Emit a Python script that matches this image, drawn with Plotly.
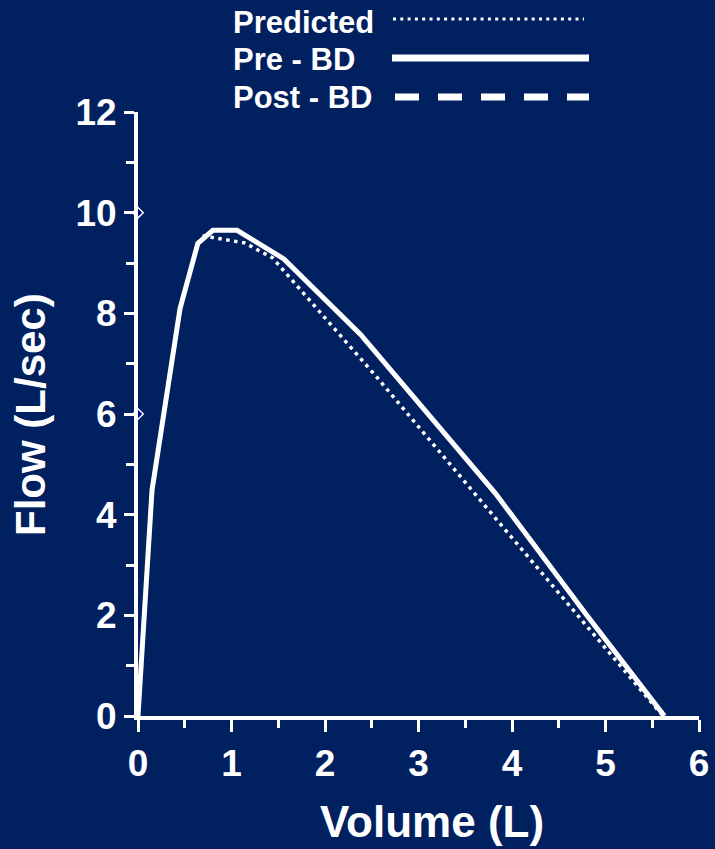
import plotly.graph_objects as go

# ---- data ----
pre_bd_volume = [0.0, 0.15, 0.45, 0.64, 0.80, 1.06, 1.56, 2.38, 3.82, 4.80, 5.63]
pre_bd_flow   = [0.0, 4.49, 8.10, 9.39, 9.65, 9.65, 9.08, 7.58, 4.43, 2.00, 0.0]

pred_volume = [0.69, 1.14, 1.44, 2.55, 3.90, 5.60]
pred_flow   = [9.54, 9.40, 9.10, 6.74, 3.76, 0.03]

post_bd_volume = [0.0, 0.0]
post_bd_flow   = [10.0, 6.0]

x_ticks = [0, 1, 2, 3, 4, 5, 6]
y_ticks = [0, 2, 4, 6, 8, 10, 12]

legend_labels = ["Predicted", "Pre - BD", "Post - BD"]

BG = "#002060"
FONT = "Liberation Sans, Arial, sans-serif"

fig = go.Figure()
fig.add_trace(go.Scatter(x=pred_volume, y=pred_flow, mode="lines",
                         line=dict(color="white", width=3.5, dash="3.5px,4.5px"),
                         showlegend=False, cliponaxis=False))
fig.add_trace(go.Scatter(x=pre_bd_volume, y=pre_bd_flow, mode="lines",
                         line=dict(color="white", width=5),
                         showlegend=False, cliponaxis=False))
fig.add_trace(go.Scatter(x=post_bd_volume, y=post_bd_flow, mode="markers",
                         marker=dict(symbol="diamond", size=8, color="#000080",
                                     line=dict(color="white", width=1.5)),
                         showlegend=False, cliponaxis=False))

axis_common = dict(showline=True, linecolor="white", linewidth=4,
                   ticks="outside", tickcolor="white", tickwidth=3,
                   showgrid=False, zeroline=False, automargin=False,
                   tickfont=dict(family=FONT, size=37, color="white", weight="bold"))

fig.update_xaxes(range=[0, 6], tickvals=x_ticks, ticktext=[str(v) for v in x_ticks],
                 ticklen=12, minor=dict(dtick=0.5, ticklen=8, tickwidth=3, tickcolor="white", ticks="outside"),
                 **axis_common)
fig.update_yaxes(range=[0, 12], tickvals=y_ticks, ticktext=[str(v) for v in y_ticks],
                 ticklen=10, minor=dict(dtick=1, ticklen=8, tickwidth=3, tickcolor="white", ticks="outside"),
                 **axis_common)

# plot area in pixels: x 138..699, y 112..716
L, R, T, B = 138, 699, 112, 716
W, H = R - L, B - T
def px(x):
    return (x - L) / W
def py(y):
    return (B - y) / H

annotations = []
text_rows = [22, 59, 97]
for lab, yy in zip(legend_labels, text_rows):
    annotations.append(dict(xref="paper", yref="paper", x=px(231), y=py(yy),
                            xanchor="left", yanchor="middle", text=lab, showarrow=False,
                            font=dict(family=FONT, size=31, color="white", weight="bold")))
annotations.append(dict(xref="paper", yref="paper", x=px(432), y=py(821),
                        xanchor="center", yanchor="middle", text="Volume (L)", showarrow=False,
                        font=dict(family=FONT, size=44, color="white", weight="bold")))
annotations.append(dict(xref="paper", yref="paper", x=px(30), y=py(415),
                        xanchor="center", yanchor="middle", text="Flow (L/sec)", showarrow=False,
                        textangle=-90,
                        font=dict(family=FONT, size=42, color="white", weight="bold")))

shapes = [
    dict(type="line", xref="paper", yref="paper", x0=px(393), x1=px(584), y0=py(19), y1=py(19),
         line=dict(color="white", width=3, dash="3px,4.3px")),
    dict(type="line", xref="paper", yref="paper", x0=px(392), x1=px(589), y0=py(58), y1=py(58),
         line=dict(color="white", width=7)),
    dict(type="line", xref="paper", yref="paper", x0=px(395), x1=px(589), y0=py(97), y1=py(97),
         line=dict(color="white", width=7, dash="24px,19px")),
]

fig.update_layout(width=715, height=849, paper_bgcolor=BG, plot_bgcolor=BG,
                  margin=dict(l=L, r=715 - R, t=T, b=849 - B),
                  showlegend=False, annotations=annotations, shapes=shapes)

fig.write_html("out.html")
